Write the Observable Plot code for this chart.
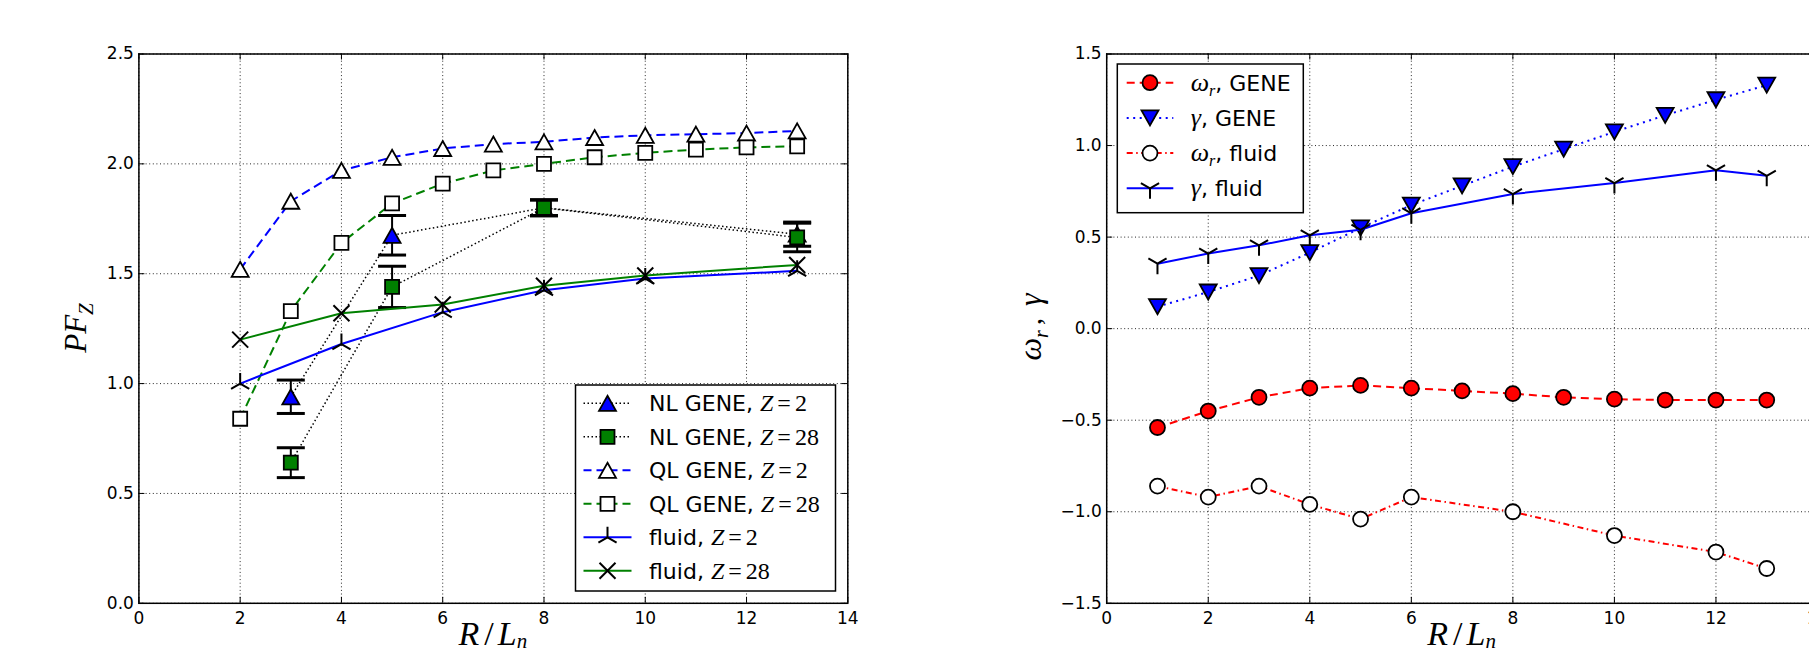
<!DOCTYPE html>
<html><head><meta charset="utf-8">
<script src="https://cdn.jsdelivr.net/npm/d3@7"></script>
<script src="https://cdn.jsdelivr.net/npm/@observablehq/plot@0.6"></script>
<style>
html,body{margin:0;padding:0;background:#fff;}
#chart{position:relative;width:1809px;height:655px;overflow:hidden;background:#fff;}
#chart svg{position:absolute;top:0;}
</style></head><body><div id="chart"></div>
<script>
// ---------- data ----------
const xTicks = [0, 2, 4, 6, 8, 10, 12, 14];
const yTicksPF = [0, 0.5, 1, 1.5, 2, 2.5];
const yTicksW = [-1.5, -1, -0.5, 0, 0.5, 1, 1.5];

// left panel: PF_Z vs R/L_n
const rlnQL = [2, 3, 4, 5, 6, 7, 8, 9, 10, 11, 12, 13];
const qlZ2 = [1.52, 1.83, 1.97, 2.03, 2.07, 2.09, 2.10, 2.12, 2.13, 2.135, 2.14, 2.15];
const qlZ28 = [0.84, 1.33, 1.64, 1.82, 1.91, 1.97, 2.00, 2.03, 2.05, 2.065, 2.075, 2.08];
const rlnNL = [3, 5, 8, 13];
const nlZ2 = [0.94, 1.675, 1.80, 1.68];
const nlZ2Err = [0.076, 0.09, 0.035, 0.055];
const nlZ28 = [0.64, 1.44, 1.80, 1.665];
const nlZ28Err = [0.068, 0.094, 0.037, 0.065];
const rlnFluid = [2, 4, 6, 8, 10, 13];
const fluidZ2 = [1.00, 1.18, 1.325, 1.425, 1.478, 1.513];
const fluidZ28 = [1.20, 1.32, 1.36, 1.445, 1.492, 1.54];
const legendLeftNames = ["NL GENE", "NL GENE", "QL GENE", "QL GENE", "fluid", "fluid"];
const legendLeftZ = ["2", "28", "2", "28", "2", "28"];

// right panel: omega_r, gamma vs R/L_n
const rlnGene = [1, 2, 3, 4, 5, 6, 7, 8, 9, 10, 11, 12, 13];
const omegaGene = [-0.54, -0.45, -0.375, -0.325, -0.31, -0.325, -0.34, -0.355, -0.375, -0.385, -0.39, -0.39, -0.39];
const gammaGene = [0.12, 0.20, 0.29, 0.415, 0.55, 0.675, 0.78, 0.885, 0.98, 1.075, 1.165, 1.25, 1.33];
const rlnFluidW = [1, 2, 3, 4, 5, 6, 8, 10, 12, 13];
const omegaFluid = [-0.86, -0.92, -0.86, -0.96, -1.04, -0.92, -1.0, -1.13, -1.22, -1.31];
const gammaFluid = [0.355, 0.41, 0.455, 0.51, 0.54, 0.63, 0.735, 0.795, 0.865, 0.835];
const legendRightSym = ["ω", "γ", "ω", "γ"];
const legendRightName = ["GENE", "GENE", "fluid", "fluid"];

// ---------- helpers ----------
const SANS = "DejaVu Sans";
const SERIF = "Liberation Serif";
const BLUE = "#0000ff", GREEN = "#008000", RED = "#ff0000";
const series = (xs, ys) => xs.map((x, i) => ({x, y: ys[i]}));
const errSeries = (xs, ys, es) => xs.map((x, i) => ({x, y: ys[i], y1: ys[i] - es[i], y2: ys[i] + es[i]}));
const fmt1 = d => d.toFixed(1).replace("-", "\u2212");

const rOf = size => Math.sqrt(size / Math.PI);
const symTriUp = {draw(c, s) {const r = rOf(s); c.moveTo(0, -0.94 * r); c.lineTo(1.06 * r, 0.94 * r); c.lineTo(-1.06 * r, 0.94 * r); c.closePath();}};
const symTriDown = {draw(c, s) {const r = rOf(s); c.moveTo(0, 0.94 * r); c.lineTo(1.06 * r, -0.94 * r); c.lineTo(-1.06 * r, -0.94 * r); c.closePath();}};
const symSquare = {draw(c, s) {const r = rOf(s); c.rect(-r, -r, 2 * r, 2 * r);}};
const symCircle = {draw(c, s) {const r = rOf(s); c.moveTo(r, 0); c.arc(0, 0, r, 0, 2 * Math.PI);}};
const symX = {draw(c, s) {const r = rOf(s); c.moveTo(-r, -r); c.lineTo(r, r); c.moveTo(-r, r); c.lineTo(r, -r);}};
const symStarUp = {draw(c, s) {const r = rOf(s); c.moveTo(0, 0); c.lineTo(0, -r); c.moveTo(0, 0); c.lineTo(0.866 * r, 0.5 * r); c.moveTo(0, 0); c.lineTo(-0.866 * r, 0.5 * r);}};
const symStarDown = {draw(c, s) {const r = rOf(s); c.moveTo(0, 0); c.lineTo(0, r); c.moveTo(0, 0); c.lineTo(0.866 * r, -0.5 * r); c.moveTo(0, 0); c.lineTo(-0.866 * r, -0.5 * r);}};
const symCap = {draw(c, s) {const r = rOf(s); c.moveTo(-r, 0); c.lineTo(r, 0);}};

const symPath = (sym, r) => {const p = d3.path(); sym.draw(p, Math.PI * r * r); return p.toString();};

const H = 655, MT = 53.5, MB = 52.2;
const innerH = H - MT - MB;
const grid = {stroke: "#000", strokeOpacity: 0.85, strokeWidth: 1, strokeDasharray: "1,2.6"};
const MSW = 1.8;

function frameMarks(yTicks, innerW) {
  return [
    Plot.gridX(xTicks, grid),
    Plot.gridY(yTicks, grid),
    Plot.tickX(xTicks, {x: d => d, insetTop: innerH - 6, stroke: "#000"}),
    Plot.tickX(xTicks, {x: d => d, insetBottom: innerH - 6, stroke: "#000"}),
    Plot.tickY(yTicks, {y: d => d, insetRight: innerW - 6, stroke: "#000"}),
    Plot.tickY(yTicks, {y: d => d, insetLeft: innerW - 6, stroke: "#000"}),
    Plot.axisX(xTicks, {tickSize: 0, tickPadding: 9, tickFormat: d => String(d), label: null, fontSize: 17, fontFamily: SANS}),
    Plot.axisY(yTicks, {tickSize: 0, tickPadding: 5, tickFormat: fmt1, label: null, fontSize: 17, fontFamily: SANS})
  ];
}
function lineMark(data, stroke, dash, width = 2) {
  return Plot.line(data, {x: "x", y: "y", stroke, strokeWidth: width, strokeDasharray: dash, strokeLinecap: "butt", strokeLinejoin: "miter"});
}
function dotMark(data, symbol, r, fill, stroke = "#000", sw = MSW) {
  return Plot.dot(data, {x: "x", y: "y", symbol, r, fill, stroke, strokeWidth: sw});
}
function errMarks(data) {
  return [
    Plot.ruleX(data, {x: "x", y1: "y1", y2: "y2", stroke: "#000", strokeWidth: 2}),
    Plot.dot(data, {x: "x", y: "y1", symbol: symCap, r: 14, fill: "none", stroke: "#000", strokeWidth: 3}),
    Plot.dot(data, {x: "x", y: "y2", symbol: symCap, r: 14, fill: "none", stroke: "#000", strokeWidth: 3})
  ];
}
function addText(sel, x, y, parts, attrs = {}) {
  const t = sel.append("text").attr("x", x).attr("y", y).attr("fill", "#000").attr("text-anchor", "start");
  for (const [k, v] of Object.entries(attrs)) t.attr(k, v);
  for (const p of parts) {
    const s = t.append("tspan").text(p.t)
      .style("font-family", `"${p.f || SANS}"`)
      .style("font-size", (p.s || 22) + "px")
      .style("font-style", p.it ? "italic" : "normal");
    if (p.dx) s.attr("dx", p.dx);
    if (p.dy) s.attr("dy", p.dy);
  }
  return t;
}
function legend(svg, box, rows) {
  const g = d3.select(svg).append("g");
  g.append("rect").attr("x", box.x).attr("y", box.y).attr("width", box.w).attr("height", box.h)
    .attr("fill", "#fff").attr("stroke", "#000").attr("stroke-width", 1.5);
  rows.forEach((row, i) => {
    const y = box.row0 + i * box.dy;
    g.append("line").attr("x1", box.lx0).attr("x2", box.lx1).attr("y1", y).attr("y2", y)
      .attr("stroke", row.stroke).attr("stroke-width", row.sw || 2).attr("stroke-dasharray", row.dash || null);
    g.append("path").attr("d", symPath(row.sym, row.r)).attr("transform", `translate(${(box.lx0 + box.lx1) / 2},${y})`)
      .attr("fill", row.fill).attr("stroke", "#000").attr("stroke-width", row.msw || MSW);
    addText(g, box.tx, y + 8, row.parts);
  });
}

const chart = document.getElementById("chart");
const xLabelParts = [{t: "R", f: SERIF, it: true, s: 34}, {t: "/", f: SERIF, s: 34, dx: 5}, {t: "L", f: SERIF, it: true, s: 34, dx: 4}, {t: "n", f: SERIF, it: true, s: 21, dy: 3}];

// ---------- left panel ----------
{
  const W = 905, ML = 138.4, MR = 57.7;
  const innerW = W - ML - MR;
  const nl2 = errSeries(rlnNL, nlZ2, nlZ2Err);
  const nl28 = errSeries(rlnNL, nlZ28, nlZ28Err);
  const svg = Plot.plot({
    width: W, height: H, marginLeft: ML, marginRight: MR, marginTop: MT, marginBottom: MB,
    x: {domain: [0, 14], label: null},
    y: {domain: [0, 2.5], label: null},
    style: {background: "transparent", color: "#000", fontFamily: SANS, fontSize: "17px", overflow: "visible"},
    marks: [
      ...frameMarks(yTicksPF, innerW),
      lineMark(nl2, "#000", "1.5,2.5", 1.5),
      ...errMarks(nl2),
      dotMark(nl2, symTriUp, 8, BLUE),
      lineMark(nl28, "#000", "1.5,2.5", 1.5),
      ...errMarks(nl28),
      dotMark(nl28, symSquare, 7, GREEN),
      lineMark(series(rlnQL, qlZ2), BLUE, "9,5"),
      dotMark(series(rlnQL, qlZ2), symTriUp, 8, "#fff"),
      lineMark(series(rlnQL, qlZ28), GREEN, "9,5"),
      dotMark(series(rlnQL, qlZ28), symSquare, 7, "#fff"),
      lineMark(series(rlnFluid, fluidZ2), BLUE, null),
      dotMark(series(rlnFluid, fluidZ2), symStarUp, 10.5, "none", "#000", 2),
      lineMark(series(rlnFluid, fluidZ28), GREEN, null),
      dotMark(series(rlnFluid, fluidZ28), symX, 8, "none", "#000", 2),
      Plot.frame({stroke: "#000", strokeWidth: 1.5})
    ]
  });
  svg.style.left = "0px";
  chart.appendChild(svg);
  const zParts = z => [{t: "Z", f: SERIF, it: true, s: 24}, {t: "=", f: SERIF, s: 24, dx: 4}, {t: z, f: SERIF, s: 24, dx: 4}];
  const styles = [
    {stroke: "#000", dash: "1.5,2.5", sw: 1.5, sym: symTriUp, r: 8, fill: BLUE},
    {stroke: "#000", dash: "1.5,2.5", sw: 1.5, sym: symSquare, r: 7, fill: GREEN},
    {stroke: BLUE, dash: "8,5", sym: symTriUp, r: 8, fill: "#fff"},
    {stroke: GREEN, dash: "8,5", sym: symSquare, r: 7, fill: "#fff"},
    {stroke: BLUE, sym: symStarUp, r: 10.5, fill: "none", msw: 2},
    {stroke: GREEN, sym: symX, r: 8, fill: "none", msw: 2}
  ];
  legend(svg, {x: 575.5, y: 385, w: 260, h: 206, row0: 403.3, dy: 33.5, lx0: 583.5, lx1: 631.5, tx: 649},
    styles.map((s, i) => ({...s, parts: [{t: legendLeftNames[i] + ",\u00a0"}, ...zParts(legendLeftZ[i])]})));
  const sel = d3.select(svg);
  addText(sel, 0, 0, [{t: "PF", f: SERIF, it: true, s: 31}, {t: "Z", f: SERIF, it: true, s: 21, dy: 7}],
    {"text-anchor": "middle", transform: "translate(86,328) rotate(-90)"});
  addText(sel, ML + innerW / 2, 645, xLabelParts, {"text-anchor": "middle"});
}

// ---------- right panel ----------
{
  const OFF = 905, W = 1000, ML = 201.2, MR = 88;
  const innerW = W - ML - MR;
  const svg = Plot.plot({
    width: W, height: H, marginLeft: ML, marginRight: MR, marginTop: MT, marginBottom: MB,
    x: {domain: [0, 14], label: null},
    y: {domain: [-1.5, 1.5], label: null},
    style: {background: "transparent", color: "#000", fontFamily: SANS, fontSize: "17px", overflow: "visible"},
    marks: [
      ...frameMarks(yTicksW, innerW),
      lineMark(series(rlnGene, omegaGene), RED, "8,5"),
      dotMark(series(rlnGene, omegaGene), symCircle, 7.5, RED),
      lineMark(series(rlnGene, gammaGene), BLUE, "2,4.5"),
      dotMark(series(rlnGene, gammaGene), symTriDown, 8, BLUE),
      lineMark(series(rlnFluidW, omegaFluid), RED, "6,3.5,1.5,3.5"),
      dotMark(series(rlnFluidW, omegaFluid), symCircle, 7.5, "#fff"),
      lineMark(series(rlnFluidW, gammaFluid), BLUE, null),
      dotMark(series(rlnFluidW, gammaFluid), symStarDown, 10.5, "none", "#000", 2),
      Plot.frame({stroke: "#000", strokeWidth: 1.5})
    ]
  });
  svg.style.left = OFF + "px";
  chart.appendChild(svg);
  const styles = [
    {stroke: RED, dash: "8,5", sym: symCircle, r: 7.5, fill: RED},
    {stroke: BLUE, dash: "2,4.5", sym: symTriDown, r: 8, fill: BLUE},
    {stroke: RED, dash: "6,3.5,1.5,3.5", sym: symCircle, r: 7.5, fill: "#fff"},
    {stroke: BLUE, sym: symStarDown, r: 10.5, fill: "none", msw: 2}
  ];
  legend(svg, {x: 212.3, y: 64, w: 186, h: 148.7, row0: 82.7, dy: 35.2, lx0: 221.7, lx1: 268.3, tx: 285.7},
    styles.map((s, i) => {
      const parts = [{t: legendRightSym[i], f: SERIF, it: true, s: 26}];
      if (legendRightSym[i] === "ω") parts.push({t: "r", f: SERIF, it: true, s: 16, dy: 5}, {t: ",\u00a0" + legendRightName[i], dy: -5});
      else parts.push({t: ",\u00a0" + legendRightName[i]});
      return {...s, parts};
    }));
  const sel = d3.select(svg);
  addText(sel, 0, 0, [{t: "ω", f: SERIF, it: true, s: 32}, {t: "r", f: SERIF, it: true, s: 20, dy: 7}, {t: ",", f: SERIF, s: 28, dx: 5, dy: -7}, {t: "γ", f: SERIF, it: true, s: 32, dx: 12}],
    {"text-anchor": "middle", transform: "translate(136,327) rotate(-90)"});
  addText(sel, ML + innerW / 2, 645, xLabelParts, {"text-anchor": "middle"});
}
</script></body></html>
